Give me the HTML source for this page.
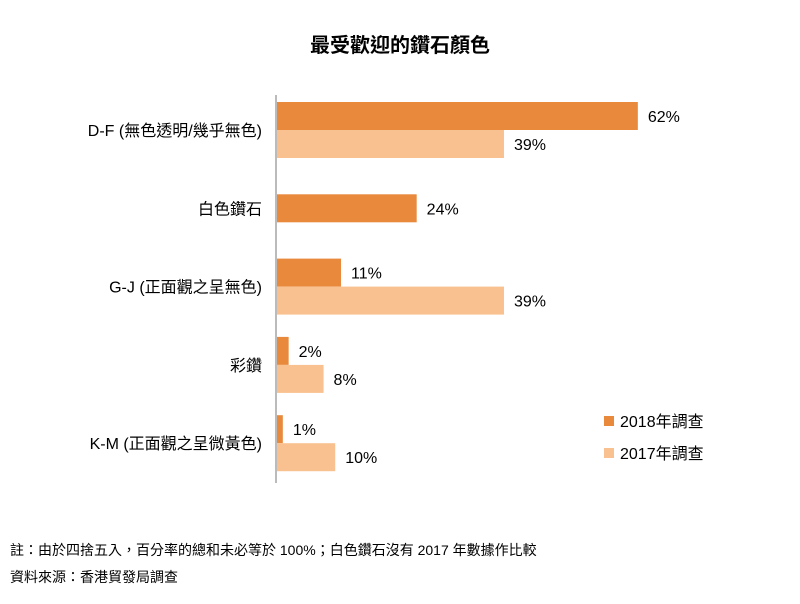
<!DOCTYPE html>
<html><head><meta charset="utf-8"><style>
body{margin:0;background:#fff;font-family:"Liberation Sans","Noto Sans CJK TC",sans-serif;}
svg text{font-family:"Liberation Sans","Noto Sans CJK TC",sans-serif;fill:#000;}
</style></head><body>
<svg id="c" width="800" height="599" xmlns="http://www.w3.org/2000/svg">
<text x="400" y="52" text-anchor="middle" font-size="20" font-weight="bold">最受歡迎的鑽石顏色</text>
<rect x="275" y="95" width="2" height="388" fill="#bbbbbb"/>
<g id="bars"></g>
<rect x="604" y="416" width="10" height="10" fill="#E8893C"/>
<text x="620" y="427" font-size="16">2018年調查</text>
<rect x="604" y="448" width="10" height="10" fill="#F9C190"/>
<text x="620" y="459" font-size="16">2017年調查</text>
<text x="10" y="555" font-size="14">註：由於四捨五入，百分率的總和未必等於 100%；白色鑽石沒有 2017 年數據作比較</text>
<text x="10" y="582" font-size="14">資料來源：香港貿發局調查</text>
</svg>
<script>
const categories=["D-F (無色透明/幾乎無色)","白色鑽石","G-J (正面觀之呈無色)","彩鑽","K-M (正面觀之呈微黃色)"];
const values2018=[62,24,11,2,1];
const values2017=[39,null,39,8,10];
const NS="http://www.w3.org/2000/svg";
const g=document.getElementById("bars");
const x0=277,pxPer=5.82,top0=130,step=78.3,bh=28;
const xs=v=>v*pxPer;
function mk(t,a){const e=document.createElementNS(NS,t);for(const k in a)e.setAttribute(k,a[k]);g.appendChild(e);return e;}
categories.forEach((c,i)=>{
  const cy=top0+i*step;
  const lab=mk("text",{x:262,y:cy+6,"text-anchor":"end","font-size":16});
  lab.textContent=c;
  
  
  [[values2018[i],"#E8893C",cy-bh,"2018"],[values2017[i],"#F9C190",cy,"2017"]].forEach(([v,col,y,s])=>{
    if(v==null)return;
    let yy=y;
    if(values2017[i]==null) yy=cy-bh/2;
    const r=mk("rect",{x:x0,y:yy,width:xs(v),height:bh,fill:col});
    
    
    const t=mk("text",{x:x0+xs(v)+10,y:yy+bh/2+6,"font-size":16});
    t.textContent=v+"%";
    
    
  });
});
</script>
</body></html>
